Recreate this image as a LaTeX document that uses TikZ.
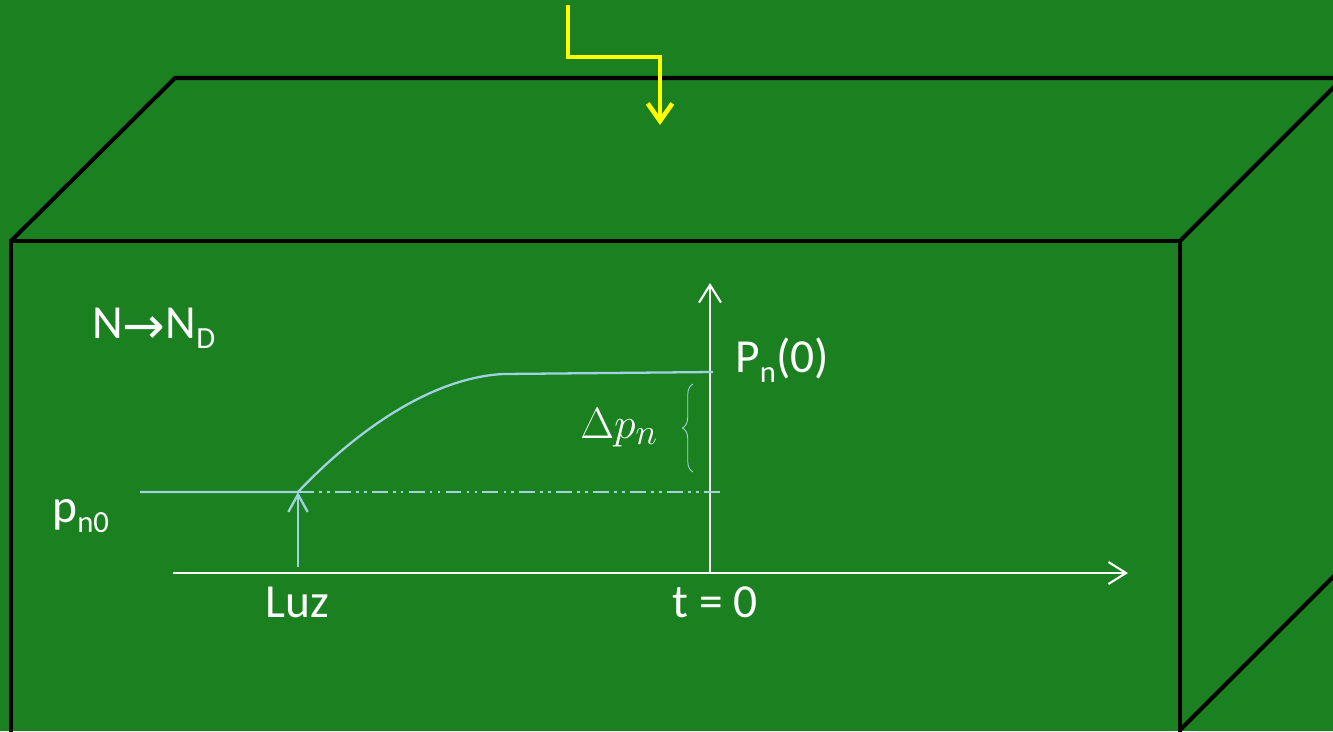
\documentclass[tikz,border=0pt]{standalone}
\usepackage{fontspec}
\setmainfont{Carlito}
\newfontfamily\symfont{DejaVu Sans}
\usetikzlibrary{arrows.meta,decorations.pathreplacing}
\definecolor{bggreen}{RGB}{26,128,32}
\definecolor{curveblue}{RGB}{160,210,225}
\definecolor{arrowyellow}{RGB}{255,255,0}
\newcommand{\lowsub}[1]{\raisebox{-0.45ex}{\fontsize{17.5}{17.5}\selectfont #1}}
\tikzset{
  boxedge/.style={draw=black,line width=2.3pt,line join=miter},
  axis/.style={draw=white,line width=1.2pt,-{Straight Barb[length=10pt,width=12.5pt,line width=1.2pt]}},
  curveline/.style={draw=curveblue,line width=1.3pt},
  lab/.style={text=white,font=\fontsize{27}{27}\selectfont,inner sep=0pt},
}
\begin{document}
\begin{tikzpicture}[x=0.02cm,y=-0.02cm]
\fill[bggreen] (0,0) rectangle (1333,731);
\useasboundingbox (0,0) rectangle (1333,731);
% box
\coordinate (FTL) at (11,241);
\coordinate (FTR) at (1180,241);
\coordinate (FBL) at (11,735);
\coordinate (FBR) at (1180,735);
\coordinate (BTL) at (175,78);
\coordinate (BTR) at (1340,78);
\draw[boxedge] (FBL) -- (FTL) -- (FTR) -- (FBR);
\draw[boxedge] (FTL) -- (BTL) -- (BTR);
\draw[boxedge] (FTR) -- (1335,86);
\draw[boxedge] (1180,730) -- (1335,575);
% yellow arrow
\coordinate (Y0) at (568,5);
\coordinate (Y1) at (568,57);
\coordinate (Y2) at (660,57);
\coordinate (Y3) at (660,125);
\draw[arrowyellow,line width=2.6pt,line join=miter,-{Straight Barb[length=10pt,width=14pt,line width=2.6pt]}] (Y0) -- (Y1) -- (Y2) -- (Y3);
% axes
\coordinate (XA) at (173,573);
\coordinate (XB) at (1128,573);
\coordinate (VA) at (710,573);
\coordinate (VB) at (710,283);
\draw[axis] (XA) -- (XB);
\draw[axis] (VA) -- (VB);
% curve
\coordinate (C0) at (140,492);
\coordinate (C1) at (298,492);
\coordinate (C2) at (503,374);
\coordinate (C3) at (713,372);
\draw[curveline,line join=round] (C0) -- (C1) .. controls (355,432) and (430,378) .. (C2) -- (C3);
\coordinate (D1) at (720,492);
\draw[curveblue,line width=1pt,dash pattern=on 9pt off 3pt on 1.5pt off 3pt on 1.5pt off 3pt] (C1) -- (D1);
\coordinate (L0) at (298,567);
\draw[curveline,-{Straight Barb[length=10pt,width=11pt,line width=1.3pt]}] (L0) -- (C1);
% brace
\coordinate (B0) at (693,472);
\coordinate (B1) at (693,384);
\draw[curveblue,line width=0.5pt,decorate,decoration={brace,amplitude=6pt}] (B0) -- (B1);
% labels
\node[lab,anchor=base west] (nnd) at (92,338) {N\raisebox{-0.25ex}{\symfont\fontsize{29}{29}\selectfont →}N\lowsub{D}};
\node[lab,anchor=base west] (pn0) at (52,522) {p\lowsub{n0}};
\node[lab,anchor=base] (luz) at (297,617) {Luz};
\node[lab,anchor=base] (t0) at (715,617) {t = 0};
\node[lab,anchor=base west] (pn) at (735,372) {P\lowsub{n}(0)};
\node[lab,anchor=base west,font=\fontsize{29}{29}\selectfont] (dpn) at (580,438) {$\Delta p_n$};
\end{tikzpicture}
\end{document}
